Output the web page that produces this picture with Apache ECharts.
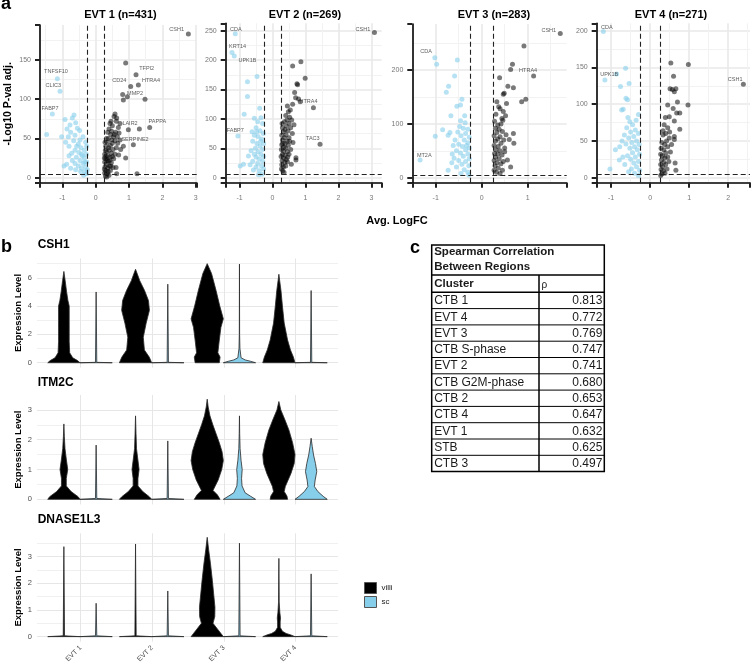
<!DOCTYPE html>
<html><head><meta charset="utf-8">
<script src="https://cdn.jsdelivr.net/npm/echarts@6/dist/echarts.min.js"></script>
<style>html,body{margin:0;padding:0;background:#fff}#c{width:753px;height:668px}</style>
</head><body><div id="c"></div><script>
// ---------------- DATA ----------------
// Panel a: volcano plots [avg logFC, -log10 p adj]
const evt1Up = [[2.78,183],[0.90,146],[1.21,131],[1.28,118],[1.05,116],[1.48,100],[0.81,106],[0.95,103],[0.83,99],[1.62,64],[1.31,62],[0.98,61],[1.13,42],[0.90,25],[0.61,13],[0.63,5],[1.24,5],
[0.58,81],[0.63,76],[0.43,69],[0.73,69],[0.48,59],[0.68,64],[0.53,52],[0.73,48],[0.83,40],[0.69,29],
[0.55,78],[0.62,72],[0.50,66],[0.40,62],[0.60,58],[0.45,55],[0.38,50],[0.58,47],[0.66,44],[0.50,44],[0.35,45],[0.44,41],[0.62,38],[0.75,36],[0.30,40],[0.52,36],[0.40,35],[0.33,33],[0.47,31],[0.58,30],[0.27,30],[0.36,28],[0.43,26],[0.54,24],[0.30,24],[0.38,21],[0.27,20],[0.47,19],[0.33,17],[0.41,15],[0.28,14],[0.36,12],[0.52,13],[0.30,9],[0.44,9],[0.27,6],[0.35,5],[0.40,3],[0.29,2],[0.33,1],[0.26,11],[0.31,27],[0.39,38],[0.29,35],[0.34,22],[0.26,25],[0.48,48],[0.56,55],[0.42,22],[0.37,8],[0.45,15],[0.28,45],[0.32,50],[0.50,27],[0.65,52],[0.70,57],[0.46,72],[0.36,58]];
const evt1Down = [[-1.15,126],[-1.07,110],[-1.30,81],[-1.47,55],
[-0.92,74],[-0.65,80],[-0.77,67],[-1.02,52],[-0.82,52],[-0.62,54],[-0.47,48],[-0.27,40],[-0.57,40],[-0.72,31],[-0.87,17],[-0.62,18],[-0.42,12],[-0.32,8],
[-0.70,76],[-0.60,70],[-0.86,62],[-0.55,63],[-0.75,58],[-0.48,60],[-0.66,47],[-0.90,45],[-0.38,52],[-0.52,43],[-0.80,40],[-0.44,38],[-0.34,35],[-0.62,35],[-0.50,32],[-0.28,30],[-0.40,28],[-0.80,28],[-0.58,26],[-0.34,25],[-0.47,22],[-0.27,20],[-0.70,22],[-0.38,18],[-0.52,15],[-0.30,14],[-0.95,15],[-0.45,8],[-0.27,5],[-0.36,3],[-0.60,10],[-0.75,12],[-0.30,45],[-0.42,30],[-0.25,10],[-0.33,20]];
const evt1Genes = [['CSH1',2.43,189],['TNFSF10',-1.19,135],['CLIC3',-1.27,118],['FABP7',-1.37,88],['TFPI2',1.53,139],['CD24',0.71,124],['HTRA4',1.66,124],['MMP2',1.18,107],['LAIR2',1.03,69],['PAPPA',1.85,71],['SERPINE2',1.18,49]];

const evt2Up = [[3.09,247],[0.86,197],[0.61,190],[0.99,169],[0.74,160],[0.76,158],[0.67,145],[0.70,136],[0.79,134],[0.84,129],[1.24,119],[0.45,122],[0.61,125],[0.54,115],[1.44,57],[0.71,34],[0.71,30],[0.57,23],[0.45,27],
[0.48,112],[0.40,106],[0.52,103],[0.44,98],[0.36,95],[0.50,92],[0.42,88],[0.30,85],[0.38,82],[0.55,85],[0.47,80],[0.33,78],[0.60,75],[0.41,73],[0.28,72],[0.36,68],[0.50,68],[0.30,64],[0.44,62],[0.38,58],[0.28,56],[0.34,52],[0.48,55],[0.40,50],[0.27,48],[0.33,45],[0.45,44],[0.30,40],[0.38,38],[0.26,36],[0.34,33],[0.42,31],[0.29,29],[0.37,26],[0.28,22],[0.33,18],[0.40,20],[0.27,15],[0.31,12],[0.35,9],[0.50,40],[0.55,48],[0.62,60],[0.58,98],[0.65,90],[0.46,35],[0.31,58],[0.29,92],[0.52,62]];
const evt2Down = [[-1.13,245],[-1.23,213],[-1.16,207],[-0.76,163],[-0.47,172],[-0.76,138],[-0.86,108],[-0.39,118],[-1.05,71],[-0.55,101],[-0.35,102],[-0.98,20],[-0.73,37],[-0.58,13],[-0.88,23],
[-0.45,95],[-0.30,92],[-0.50,85],[-0.62,78],[-0.38,80],[-0.28,75],[-0.55,72],[-0.44,70],[-0.33,66],[-0.60,62],[-0.47,58],[-0.27,58],[-0.38,54],[-0.52,50],[-0.30,48],[-0.44,44],[-0.65,46],[-0.35,40],[-0.27,36],[-0.50,35],[-0.40,32],[-0.30,28],[-0.60,28],[-0.45,24],[-0.33,20],[-0.27,15],[-0.40,12],[-0.50,18],[-0.32,6],[-0.42,5],[-0.68,22],[-0.55,40],[-0.36,62],[-0.48,78]];
const evt2Genes = [['CSH1',2.74,252],['CDA',-1.11,252],['KRT14',-1.06,223],['UPK1B',-0.76,200],['HTRA4',1.09,129],['FABP7',-1.13,81],['TAC3',1.22,67]];

const evt3Up = [[1.71,268],[0.92,245],[0.67,211],[0.63,201],[1.13,189],[0.39,186],[0.57,170],[0.69,167],[0.49,157],[0.47,155],[0.96,146],[0.87,141],[0.33,141],[0.54,138],[0.37,132],[0.47,123],[0.44,110],[0.46,107],[0.69,82],[0.53,80],[0.60,71],[0.70,64],[0.56,33],[0.63,20],[0.40,8],
[0.42,100],[0.35,98],[0.30,92],[0.38,90],[0.45,86],[0.33,84],[0.27,78],[0.40,76],[0.35,72],[0.48,70],[0.30,68],[0.42,64],[0.27,60],[0.36,58],[0.50,55],[0.31,52],[0.40,50],[0.28,45],[0.35,44],[0.44,42],[0.30,38],[0.38,35],[0.27,32],[0.33,28],[0.42,26],[0.29,22],[0.36,18],[0.27,14],[0.32,10],[0.45,14],[0.31,118],[0.40,128],[0.52,115],[0.28,105],[0.50,48],[0.47,30]];
const evt3Down = [[-1.02,223],[-0.98,211],[-0.53,219],[-0.59,189],[-0.72,170],[-0.77,159],[-0.43,146],[-0.54,133],[-0.46,135],[-0.67,115],[-0.46,106],[-0.37,115],[-0.85,89],[-1.01,77],[-0.69,84],[-0.73,79],[-1.34,33],[-0.64,44],[-0.73,14],
[-0.48,95],[-0.40,92],[-0.30,90],[-0.52,85],[-0.35,82],[-0.45,78],[-0.27,75],[-0.58,70],[-0.38,70],[-0.30,65],[-0.50,62],[-0.42,58],[-0.27,55],[-0.35,52],[-0.55,50],[-0.46,46],[-0.30,44],[-0.40,40],[-0.27,35],[-0.60,36],[-0.50,32],[-0.35,30],[-0.43,25],[-0.28,22],[-0.55,20],[-0.38,15],[-0.30,10],[-0.45,8],[-0.65,28],[-0.33,60],[-0.28,5],[-0.62,60],[-0.36,102]];
const evt3Genes = [['CSH1',1.46,274],['CDA',-1.21,234],['HTRA4',1.01,200],['MT2A',-1.25,42]];

const evt4Up = [[2.39,127],[0.53,156],[0.98,154],[0.60,138],[0.51,121],[0.57,120],[0.66,121],[0.62,117],[0.97,99],[0.70,103],[0.45,99],[0.59,94],[0.76,88],[0.68,88],[0.39,82],[0.49,83],[0.62,77],[0.76,66],[0.36,72],[0.45,68],[0.62,56],[0.49,54],[0.62,52],[0.64,20],[0.66,10],
[0.40,60],[0.33,58],[0.42,50],[0.30,48],[0.37,45],[0.45,42],[0.28,40],[0.35,38],[0.40,34],[0.27,32],[0.32,30],[0.38,27],[0.45,28],[0.29,24],[0.35,21],[0.27,18],[0.32,15],[0.40,18],[0.28,11],[0.34,9],[0.30,5],[0.38,6],[0.27,3],[0.52,35],[0.48,22],[0.55,45],[0.43,12],[0.33,64],[0.50,62]];
const evt4Down = [[-1.20,199],[-1.16,133],[-0.63,149],[-0.86,141],[-0.54,128],[-0.76,124],[-0.58,106],[-0.62,108],[-0.69,93],[-0.73,92],[-0.30,86],[-0.57,82],[-0.52,76],[-0.89,38],[-0.78,42],[-0.79,24],[-0.65,18],[-1.03,12],
[-0.45,72],[-0.60,68],[-0.38,65],[-0.50,62],[-0.30,60],[-0.42,56],[-0.55,54],[-0.35,50],[-0.47,48],[-0.28,45],[-0.62,46],[-0.40,42],[-0.52,40],[-0.33,38],[-0.45,34],[-0.27,32],[-0.58,30],[-0.38,28],[-0.50,25],[-0.30,22],[-0.42,20],[-0.70,28],[-0.35,15],[-0.27,10],[-0.48,12],[-0.40,6],[-0.55,8],[-0.30,3],[-0.66,58],[-0.36,78],[-0.72,50]];
const evt4Genes = [['CDA',-1.11,204],['UPK1B',-1.05,141],['CSH1',2.18,134]];

const fcCut = 0.25;
const pCut = [4.2, 5.7, 5.0, 4.6];
const volcanoTitles = ['EVT 1 (n=431)','EVT 2 (n=269)','EVT 3 (n=283)','EVT 4 (n=271)'];

// Panel b: violin profiles [expression level, relative half-width]
const clusters = ['EVT 1','EVT 2','EVT 3','EVT 4'];
const csh1Villi = [
 [[0,1],[0.15,0.85],[0.35,0.55],[0.7,0.36],[1.5,0.33],[3,0.33],[4,0.33],[4.4,0.25],[5,0.17],[5.8,0.08],[6.45,0]],
 [[0,1],[0.4,0.85],[0.9,0.55],[1.8,0.48],[2.8,0.66],[3.7,0.86],[4.4,0.8],[5.1,0.56],[5.8,0.26],[6.3,0.1],[6.6,0]],
 [[0,0.75],[0.4,0.8],[0.7,0.66],[1.6,0.75],[2.5,0.85],[3.1,1],[4.0,0.78],[5.1,0.55],[6.3,0.27],[7.0,0]],
 [[0,1],[0.4,0.9],[0.9,0.72],[1.6,0.54],[2.8,0.33],[4,0.22],[5.1,0.13],[5.8,0.05],[6.25,0]]];
const csh1Sc = [
 [[0,1],[0.03,0.04],[5.0,0]],
 [[0,1],[0.03,0.04],[5.55,0]],
 [[0,1],[0.1,0.7],[0.2,0.35],[0.35,0.1],[1.0,0.03],[2,0.01],[6.97,0]],
 [[0,1],[0.03,0.04],[5.1,0]]];
const itm2cVilli = [
 [[0,1],[0.09,0.88],[0.26,0.45],[0.45,0.15],[0.7,0.15],[1.0,0.24],[1.35,0.15],[1.7,0.07],[2.1,0.03],[2.53,0]],
 [[0,1],[0.09,0.85],[0.26,0.45],[0.45,0.15],[0.7,0.15],[1.0,0.22],[1.35,0.14],[1.7,0.06],[2.2,0.03],[2.8,0]],
 [[0,0.8],[0.15,0.63],[0.3,0.36],[0.65,0.68],[1.0,0.9],[1.3,1.0],[1.6,0.92],[1.9,0.75],[2.2,0.55],[2.5,0.35],[2.8,0.17],[3.1,0.06],[3.36,0]],
 [[0,0.54],[0.11,0.5],[0.26,0.33],[0.43,0.4],[0.87,0.75],[1.2,0.95],[1.5,1.0],[1.9,0.85],[2.33,0.62],[2.66,0.38],[3.0,0.12],[3.28,0]]];
const itm2cSc = [
 [[0,1],[0.03,0.04],[1.82,0]],
 [[0,1],[0.03,0.04],[1.96,0]],
 [[0,1],[0.1,0.7],[0.22,0.35],[0.45,0.16],[0.7,0.13],[1.0,0.17],[1.3,0.1],[1.7,0.04],[2.2,0.015],[2.8,0]],
 [[0,1],[0.1,0.75],[0.26,0.42],[0.43,0.2],[0.65,0.25],[0.93,0.35],[1.2,0.27],[1.49,0.15],[1.77,0.07],[2.05,0]]];
const dnaseVilli = [
 [[0,1],[0.03,0.04],[3.37,0]],
 [[0,1],[0.03,0.04],[3.47,0]],
 [[0,1],[0.12,0.85],[0.25,0.68],[0.5,0.36],[0.75,0.47],[1.1,0.48],[1.6,0.4],[2.1,0.32],[2.75,0.2],[3.25,0.09],[3.72,0]],
 [[0,1],[0.06,0.75],[0.12,0.45],[0.2,0.22],[0.35,0.08],[0.55,0.08],[0.7,0.1],[0.9,0.06],[1.3,0.02],[2.93,0]]];
const dnaseSc = [
 [[0,1],[0.03,0.04],[1.25,0]],
 [[0,1],[0.03,0.04],[1.71,0]],
 [[0,1],[0.03,0.04],[3.5,0]],
 [[0,1],[0.03,0.04],[2.35,0]]];
const geneNames = ['CSH1','ITM2C','DNASE1L3'];

// Panel c: table
const tableClusters = ['CTB 1','EVT 4','EVT 3','CTB S-phase','EVT 2','CTB G2M-phase','CTB 2','CTB 4','EVT 1','STB','CTB 3'];
const tableRho = ['0.813','0.772','0.769','0.747','0.741','0.680','0.653','0.647','0.632','0.625','0.497'];

// ---------------- LAYOUT ----------------
const FONT = '"Liberation Sans", Arial, Helvetica, sans-serif';
const BLUE = '#87CEEB';
const volcano = [
 {grid:{left:40, top:25, width:156.7, height:157.7}, x:[-1.67,3.03], y:[-6.4,194.5], ys:50, tx:120.5, up:evt1Up, down:evt1Down, genes:evt1Genes},
 {grid:{left:225.7, top:23.3, width:156, height:159.4}, x:[-1.42,3.31], y:[-8.5,262.6], ys:50, tx:305, up:evt2Up, down:evt2Down, genes:evt2Genes},
 {grid:{left:412.3, top:24, width:154.4, height:158.7}, x:[-1.51,1.85], y:[-9.3,285.7], ys:100, tx:494, up:evt3Up, down:evt3Down, genes:evt3Genes},
 {grid:{left:596.7, top:23.3, width:155, height:159.4}, x:[-1.37,2.56], y:[-6.8,210], ys:50, tx:671, up:evt4Up, down:evt4Down, genes:evt4Genes}
];
const violins = [
 {top:258.4, height:109.3, y:[-0.35,7.37], step:2, villi:csh1Villi, sc:csh1Sc, ty:245},
 {top:395, height:109.4, y:[-0.17,3.5], step:1, villi:itm2cVilli, sc:itm2cSc, ty:383},
 {top:533.3, height:108.4, y:[-0.19,3.87], step:1, villi:dnaseVilli, sc:dnaseSc, ty:520}
];
const DODGE = 0.225, HALF = 0.225;

function onStep(step){ return v => Math.abs(v/step - Math.round(v/step)) < 1e-6 ? String(Math.round(v)) : ''; }

const grids = [], xAxes = [], yAxes = [], series = [], graphic = [];

volcano.forEach((p, i) => {
  grids.push(Object.assign({containLabel:false}, p.grid));
  xAxes.push({type:'value', gridIndex:i, min:p.x[0], max:p.x[1], minInterval:1, maxInterval:1,
    axisLine:{show:true, onZero:false, lineStyle:{color:'#000', width:1.6}},
    axisTick:{show:true, length:5, lineStyle:{color:'#222', width:2}},
    axisLabel:{fontSize:7, color:'#777', margin:12, fontFamily:FONT, formatter:onStep(1)},
    splitLine:{show:true, showMinLine:false, showMaxLine:false, lineStyle:{color:'#e9e9e9', width:1.6}},
    minorTick:{show:false, splitNumber:2},
    minorSplitLine:{show:true, lineStyle:{color:'#f2f2f2', width:1}}});
  yAxes.push({type:'value', gridIndex:i, min:p.y[0], max:p.y[1], minInterval:p.ys, maxInterval:p.ys,
    name: i===0 ? '-Log10 P-val adj.' : '', nameLocation:'middle', nameGap:26,
    nameTextStyle:{fontSize:10.5, fontWeight:'bold', color:'#000', fontFamily:FONT},
    axisLine:{show:true, onZero:false, lineStyle:{color:'#000', width:1.6}},
    axisTick:{show:true, length:5, lineStyle:{color:'#222', width:2}},
    axisLabel:{fontSize:7, color:'#777', margin:9, fontFamily:FONT, formatter:onStep(p.ys)},
    splitLine:{show:true, showMinLine:false, showMaxLine:false, lineStyle:{color:'#e9e9e9', width:1.6}},
    minorTick:{show:false, splitNumber:2},
    minorSplitLine:{show:true, lineStyle:{color:'#f2f2f2', width:1}}});
  series.push({type:'scatter', xAxisIndex:i, yAxisIndex:i, data:p.down, symbolSize:5, z:3,
    itemStyle:{color:'rgba(135,206,235,0.75)'}, silent:true});
  series.push({type:'scatter', xAxisIndex:i, yAxisIndex:i, data:p.up, symbolSize:5, z:3,
    itemStyle:{color:'rgba(0,0,0,0.66)'}, silent:true,
    markLine:{silent:true, symbol:['none','none'], label:{show:false}, animation:false,
      lineStyle:{color:'#222', type:[5,3], width:1.1},
      data:[{xAxis:-fcCut},{xAxis:fcCut},{yAxis:pCut[i]}]}});
  series.push({type:'scatter', xAxisIndex:i, yAxisIndex:i, symbolSize:1, z:4, silent:true,
    itemStyle:{color:'rgba(0,0,0,0)'},
    data:p.genes.map(g => ({name:g[0], value:[g[1], g[2]]})),
    label:{show:true, position:'inside', formatter:'{b}', fontSize:5.5, color:'#333', fontFamily:FONT}});
  graphic.push({type:'text', x:p.tx, y:14.5, style:{text:volcanoTitles[i], fontSize:11, fontWeight:'bold', fontFamily:FONT, fill:'#000', align:'center', verticalAlign:'middle'}});
});

violins.forEach((v, k) => {
  const gi = 4 + k, oi = 7 + k;
  grids[gi] = {left:37, width:301, top:v.top, height:v.height};
  grids[oi] = {left:80.7, width:214.6, top:v.top, height:v.height};
  xAxes[gi] = {type:'value', gridIndex:gi, min:0.4, max:4.6, show:false, splitLine:{show:false}};
  yAxes[gi] = {type:'value', gridIndex:gi, min:v.y[0], max:v.y[1], minInterval:v.step, maxInterval:v.step,
    name:'Expression Level', nameLocation:'middle', nameGap:14,
    nameTextStyle:{fontSize:9.5, fontWeight:'bold', color:'#000', fontFamily:FONT},
    axisLine:{show:false}, axisTick:{show:false},
    axisLabel:{fontSize:7.5, color:'#4d4d4d', margin:5, fontFamily:FONT, formatter:onStep(v.step)},
    splitLine:{show:true, showMinLine:false, showMaxLine:false, lineStyle:{color:'#e6e6e6', width:1}},
    minorTick:{show:false, splitNumber:2},
    minorSplitLine:{show:true, lineStyle:{color:'#f0f0f0', width:1}}};
  xAxes[oi] = {type:'category', gridIndex:oi, data:clusters, boundaryGap:false,
    axisLine:{show:false}, axisTick:{show:false},
    axisLabel:{show:k===2, rotate:45, interval:0, fontSize:7, color:'#4d4d4d', margin:5, fontFamily:FONT},
    splitLine:{show:true, interval:0, lineStyle:{color:'#e6e6e6', width:1}}};
  yAxes[oi] = {type:'value', gridIndex:oi, min:v.y[0], max:v.y[1], show:false, splitLine:{show:false}};
  [['villi', v.villi, -1, '#000000'], ['sc', v.sc, 1, BLUE]].forEach(([name, profiles, side, color]) => {
    series.push({type:'custom', name, xAxisIndex:gi, yAxisIndex:gi, z:3, silent:true,
      itemStyle:{color},
      data: profiles.map((pr, ci) => [ci + 1 + side*DODGE, pr[pr.length-1][0]]),
      encode:{x:0, y:1},
      renderItem: (params, api) => {
        const pr = profiles[params.dataIndex];
        const cx = api.value(0);
        const right = pr.map(([y, w]) => api.coord([cx + w*HALF, y]));
        const left = pr.slice().reverse().map(([y, w]) => api.coord([cx - w*HALF, y]));
        return {type:'polygon', shape:{points: right.concat(left)},
          style:{fill:color, stroke:'#2a2a2a', lineWidth:0.8}};
      }});
  });
  graphic.push({type:'text', x:37.7, y:v.ty, style:{text:geneNames[k], fontSize:12, fontWeight:'bold', fontFamily:FONT, fill:'#000', align:'left', verticalAlign:'middle'}});
});

// Panel letters and shared axis title
[['a',1,4],['b',1,247],['c',410,248]].forEach(([t,x,y]) =>
  graphic.push({type:'text', x, y, style:{text:t, fontSize:18, fontWeight:'bold', fontFamily:FONT, fill:'#000', align:'left', verticalAlign:'middle'}}));
graphic.push({type:'text', x:397, y:221, style:{text:'Avg. LogFC', fontSize:11, fontWeight:'bold', fontFamily:FONT, fill:'#000', align:'center', verticalAlign:'middle'}});

// Panel c table
const TX0 = 431.7, TX1 = 604.3, TCOL = 539, TTOP = 245, THEAD = 275, TROWS = 292.3, TROWH = 16.3;
const TBOT = TROWS + TROWH*tableClusters.length;
const line = (x1,y1,x2,y2,w) => ({type:'line', shape:{x1,y1,x2,y2}, style:{stroke:'#000', lineWidth:w}, z:10});
graphic.push({type:'rect', shape:{x:TX0, y:TTOP, width:TX1-TX0, height:TBOT-TTOP}, style:{fill:'#fff', stroke:'#000', lineWidth:1.5}, z:9});
graphic.push(line(TX0, THEAD, TX1, THEAD, 1.5));
graphic.push(line(TX0, TROWS, TX1, TROWS, 1.5));
graphic.push(line(TCOL, THEAD, TCOL, TBOT, 1.5));
for (let r = 1; r < tableClusters.length; r++) graphic.push(line(TX0, TROWS + r*TROWH, TX1, TROWS + r*TROWH, 1));
const ttext = (text, x, y, opt) => ({type:'text', x, y, z:11, style:Object.assign({text, fontSize:12, fontFamily:FONT, fill:'#1a1a1a', align:'left', verticalAlign:'middle'}, opt||{})});
graphic.push(ttext('Spearman Correlation', TX0+2.5, 252, {fontWeight:'bold', fontSize:11.5}));
graphic.push(ttext('Between Regions', TX0+2.5, 267, {fontWeight:'bold', fontSize:11.5}));
graphic.push(ttext('Cluster', TX0+2.5, 284, {fontWeight:'bold', fontSize:11.5}));
graphic.push(ttext('ρ', TCOL+2.5, 285, {fontSize:10}));
tableClusters.forEach((c, r) => {
  const y = TROWS + r*TROWH + TROWH/2 + 0.5;
  graphic.push(ttext(c, TX0+2.5, y));
  graphic.push(ttext(tableRho[r], TX1-2, y, {align:'right'}));
});

const chart = echarts.init(document.getElementById('c'), null, {renderer:'canvas'});
chart.setOption({
  backgroundColor:'#fff', animation:false,
  textStyle:{fontFamily:FONT},
  grid: grids, xAxis: xAxes, yAxis: yAxes, series,
  legend:{data:['villi','sc'], orient:'vertical', left:359, top:577, itemWidth:12, itemHeight:11, itemGap:2,
    icon:'rect', selectedMode:false, itemStyle:{borderColor:'#555', borderWidth:1},
    textStyle:{fontSize:8, color:'#222', fontFamily:FONT}},
  graphic
});
</script></body></html>
